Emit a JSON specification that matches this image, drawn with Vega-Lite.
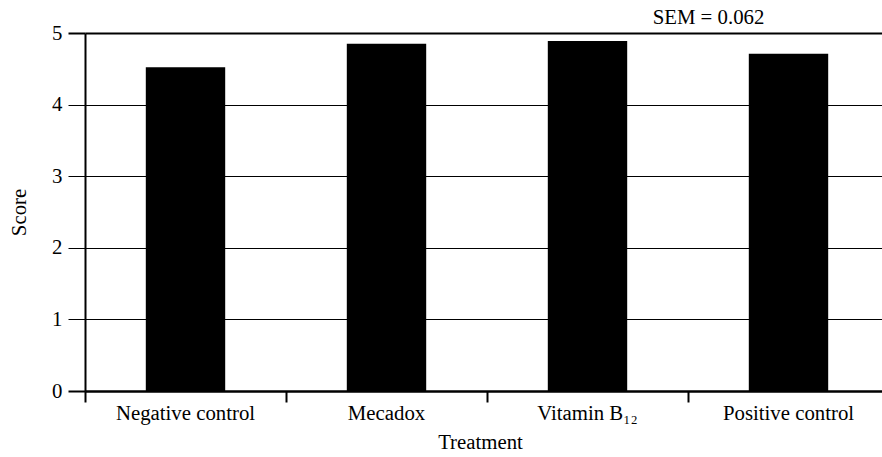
{
  "$schema": "https://vega.github.io/schema/vega-lite/v6.json",
  "width": 804,
  "height": 358,
  "autosize": {"type": "none"},
  "padding": {"left": 85, "top": 33, "right": -7, "bottom": 66},
  "background": "white",
  "config": {
    "view": {"stroke": null},
    "font": "Liberation Serif",
    "axis": {"labelFont": "Liberation Serif", "titleFont": "Liberation Serif", "labelColor": "black", "titleColor": "black", "labelFontSize": 20.8, "titleFontSize": 20.8, "titleFontWeight": "normal", "domainColor": "black", "tickColor": "black", "gridColor": "black"}
  },
  "data": {"values": [
    {"Treatment": "Negative control", "Score": 4.52},
    {"Treatment": "Mecadox", "Score": 4.85},
    {"Treatment": "Vitamin B₁₂", "Score": 4.89},
    {"Treatment": "Positive control", "Score": 4.71}
  ]},
  "layer": [
    {
      "mark": {"type": "bar", "color": "black", "width": {"band": 0.395}},
      "encoding": {
        "x": {"field": "Treatment", "type": "nominal",
          "sort": ["Negative control", "Mecadox", "Vitamin B₁₂", "Positive control"],
          "scale": {"paddingInner": 0, "paddingOuter": 0},
          "axis": {"labelAngle": 0, "bandPosition": 0, "tickSize": 11, "tickWidth": 2, "domainWidth": 2, "labelPadding": 1, "titlePadding": 10, "titleX": 395, "grid": false}},
        "y": {"field": "Score", "type": "quantitative",
          "scale": {"domain": [0, 5], "nice": false},
          "axis": {"values": [0, 1, 2, 3, 4, 5], "format": "d", "tickSize": 17, "domainWidth": 2, "labelPadding": 6, "titlePadding": 22, "grid": true,
            "gridWidth": {"condition": {"test": "datum.value === 0 || datum.value === 5", "value": 2}, "value": 1},
            "tickWidth": {"condition": {"test": "datum.value === 0 || datum.value === 5", "value": 2}, "value": 1}}}
      }
    },
    {
      "data": {"values": [{"label": "SEM = 0.062", "Treatment": "Vitamin B₁₂", "Score": 5}]},
      "mark": {"type": "text", "font": "Liberation Serif", "fontSize": 20.8, "color": "black", "dx": 121, "dy": -15, "baseline": "middle", "align": "center"},
      "encoding": {
        "x": {"field": "Treatment", "type": "nominal", "sort": ["Negative control", "Mecadox", "Vitamin B₁₂", "Positive control"]},
        "y": {"field": "Score", "type": "quantitative"},
        "text": {"field": "label"}
      }
    }
  ]
}
